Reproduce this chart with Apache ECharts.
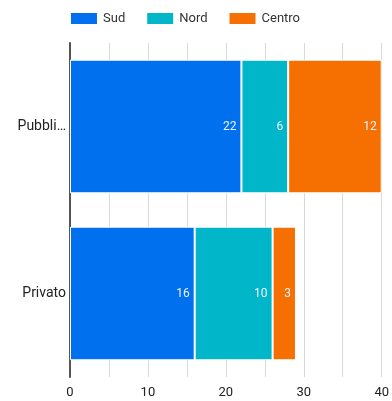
<!DOCTYPE html>
<html>
<head>
<meta charset="utf-8">
<script src="https://cdn.jsdelivr.net/npm/echarts@6/dist/echarts.min.js"></script>
<style>
  html, body { margin: 0; padding: 0; background: #fff; }
  #chart { width: 392px; height: 401px; }
</style>
</head>
<body>
<div id="chart"></div>
<script>
// Categories listed bottom-to-top for the horizontal category axis
const categories = ['Privato', 'Pubblico'];
const sud = [16, 22];
const nord = [10, 6];
const centro = [3, 12];
const seriesNames = ['Sud', 'Nord', 'Centro'];
const colors = ['#0070ee', '#00b6c8', '#f57000'];

const chart = echarts.init(document.getElementById('chart'));

const labelStyle = {
  show: true,
  position: 'insideRight',
  color: '#eef4ff',
  fontFamily: 'Roboto',
  fontSize: 12,
  distance: 5
};

function makeSeries(name, data, color) {
  return {
    name: name,
    type: 'bar',
    stack: 'total',
    barWidth: '80%',
    data: data,
    itemStyle: { color: color, borderColor: '#ffffff', borderWidth: 1 },
    label: labelStyle
  };
}

chart.setOption({
  animation: false,
  textStyle: { fontFamily: 'Roboto' },
  legend: {
    top: 6,
    left: 64,
    itemWidth: 28,
    itemHeight: 13,
    itemGap: 20,
    icon: 'rect',
    data: seriesNames,
    textStyle: { color: '#333', fontSize: 13, fontFamily: 'Roboto' }
  },
  grid: { left: 70, right: 10, top: 43, bottom: 24, containLabel: false },
  xAxis: {
    type: 'value',
    min: 0,
    max: 40,
    interval: 5,
    axisLine: { show: false },
    axisTick: { show: false },
    splitLine: { show: true, lineStyle: { color: '#d9d9d9', width: 1 } },
    axisLabel: {
      color: '#222',
      fontSize: 13,
      margin: 9,
      formatter: v => (v % 10 === 0 ? String(v) : '')
    }
  },
  yAxis: {
    type: 'category',
    data: categories,
    axisLine: { show: true, lineStyle: { color: '#555', width: 2 } },
    axisTick: { show: false },
    axisLabel: {
      color: '#222',
      fontSize: 14,
      margin: 4,
      width: 53,
      overflow: 'truncate',
      ellipsis: '…'
    }
  },
  series: [
    makeSeries(seriesNames[0], sud, colors[0]),
    makeSeries(seriesNames[1], nord, colors[1]),
    makeSeries(seriesNames[2], centro, colors[2])
  ]
});
</script>
</body>
</html>
